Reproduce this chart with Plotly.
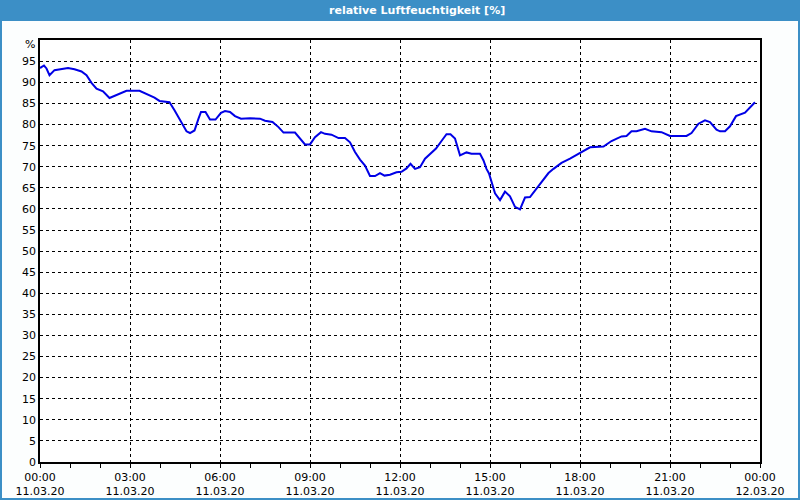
import plotly.graph_objects as go

times = ["00:00","00:08","00:13","00:19","00:29","00:39","00:56","01:09","01:23","01:33",
         "01:43","01:53","02:06","02:19","02:29","02:43","02:53","03:19","03:36","03:49",
         "03:59","04:19","04:29","04:43","04:53","05:00","05:09","05:17","05:22","05:31",
         "05:40","05:51","06:02","06:10","06:20","06:30","06:42","07:00","07:20","07:30",
         "07:45","07:57","08:07","08:30","08:40","08:50","09:00","09:10","09:22","09:30",
         "09:43","09:57","10:10","10:20","10:30","10:40","10:50","11:00","11:10","11:20",
         "11:29","11:40","11:53","12:03","12:13","12:21","12:30","12:40","12:50","13:00",
         "13:12","13:23","13:33","13:41","13:50","14:00","14:13","14:23","14:40","14:47",
         "14:53","14:58","15:10","15:20","15:30","15:40","15:50","16:00","16:10","16:20",
         "16:37","16:57","17:07","17:23","17:40","18:00","18:20","18:47","19:03","19:23",
         "19:33","19:43","19:53","20:10","20:23","20:43","21:00","21:33","21:43","21:57",
         "22:10","22:20","22:33","22:40","22:50","23:00","23:12","23:30","23:40","23:50"]
humidity = [93.4,94.0,93.3,91.7,92.9,93.1,93.4,93.1,92.6,91.7,
            89.9,88.5,87.9,86.3,86.8,87.6,88.0,88.0,87.1,86.4,
            85.6,85.3,83.4,80.6,78.4,78.0,78.6,81.4,83.0,83.0,
            81.2,81.2,82.8,83.2,83.0,82.0,81.4,81.5,81.4,80.9,
            80.6,79.4,78.1,78.1,76.8,75.3,75.3,77.0,78.2,77.8,
            77.6,76.8,76.8,75.8,73.5,71.7,70.3,67.8,67.8,68.5,
            67.9,68.1,68.7,68.8,69.6,70.7,69.5,69.9,71.9,73.1,
            74.3,76.1,77.7,77.7,76.7,72.7,73.4,73.1,73.1,71.5,
            69.5,68.4,63.7,62.1,64.1,63.0,60.5,59.9,62.7,62.8,
            65.4,68.5,69.5,70.9,71.9,73.2,74.6,74.8,76.1,77.2,
            77.3,78.4,78.4,79.0,78.4,78.2,77.3,77.3,78.0,80.2,
            81.0,80.6,78.8,78.4,78.4,79.6,82.0,82.8,84.1,85.3]

tick_vals = ["2020-03-11 00:00","2020-03-11 03:00","2020-03-11 06:00","2020-03-11 09:00",
             "2020-03-11 12:00","2020-03-11 15:00","2020-03-11 18:00","2020-03-11 21:00",
             "2020-03-12 00:00"]
tick_text = ["00:00<br>11.03.20","03:00<br>11.03.20","06:00<br>11.03.20","09:00<br>11.03.20",
             "12:00<br>11.03.20","15:00<br>11.03.20","18:00<br>11.03.20","21:00<br>11.03.20",
             "00:00<br>12.03.20"]
y_ticks = list(range(0, 100, 5))
title_text = "relative Luftfeuchtigkeit [%]"

x = ["2020-03-11 " + t for t in times]

fig = go.Figure()
fig.add_trace(go.Scatter(x=x, y=humidity, mode="lines",
                         line=dict(color="#0000e6", width=2), hoverinfo="skip"))

W, H = 800, 500
L, R, T, B = 40, 40, 40, 38
pw, ph = W - L - R, H - T - B
def px(xp):
    return (xp - L) / pw
def py(yp):
    return 1 - (yp - T) / ph

fig.update_layout(
    width=W, height=H,
    margin=dict(l=L, r=R, t=T, b=B, autoexpand=False),
    paper_bgcolor="#fcfefe", plot_bgcolor="#ffffff",
    showlegend=False,
    font=dict(family="Verdana, DejaVu Sans, sans-serif", size=11, color="#000000"),
    xaxis=dict(
        type="date", automargin=False,
        range=["2020-03-11 00:00", "2020-03-12 00:00"],
        tickvals=tick_vals, ticktext=tick_text,
        showgrid=True, gridcolor="#000000", griddash="3px,3px", gridwidth=1,
        showline=True, linecolor="#000000", linewidth=1.5, mirror=True,
        ticks="outside", ticklen=4, tickcolor="#000000",
        minor=dict(dtick=3600000, ticks="outside", ticklen=4, tickcolor="#000000", showgrid=False),
        zeroline=False, tickfont=dict(size=11),
    ),
    yaxis=dict(
        automargin=False,
        range=[0, 100.05],
        tickvals=y_ticks,
        showgrid=True, gridcolor="#000000", griddash="3px,3px", gridwidth=1,
        showline=True, linecolor="#000000", linewidth=1.5, mirror=True,
        ticks="", zeroline=False, tickfont=dict(size=11),
    ),
    shapes=[
        dict(type="rect", xref="paper", yref="paper",
             x0=px(0), x1=px(W), y0=py(0), y1=py(20),
             fillcolor="#3c8fc6", line=dict(width=0), layer="above"),
        dict(type="rect", xref="paper", yref="paper",
             x0=px(1), x1=px(W - 1), y0=py(20), y1=py(H - 1),
             fillcolor="rgba(0,0,0,0)", line=dict(color="#3c8fc6", width=2), layer="above"),
    ],
    annotations=[
        dict(text="<b>" + title_text + "</b>", xref="paper", yref="paper",
             x=px(417), y=py(10), xanchor="center", yanchor="middle", showarrow=False,
             font=dict(color="#ffffff", size=11, family="Verdana, DejaVu Sans, sans-serif")),
        dict(text="%", xref="paper", yref="paper",
             x=px(37), y=py(45), xanchor="right", yanchor="middle", showarrow=False,
             font=dict(size=11)),
    ],
)

fig.write_html("out.html")
